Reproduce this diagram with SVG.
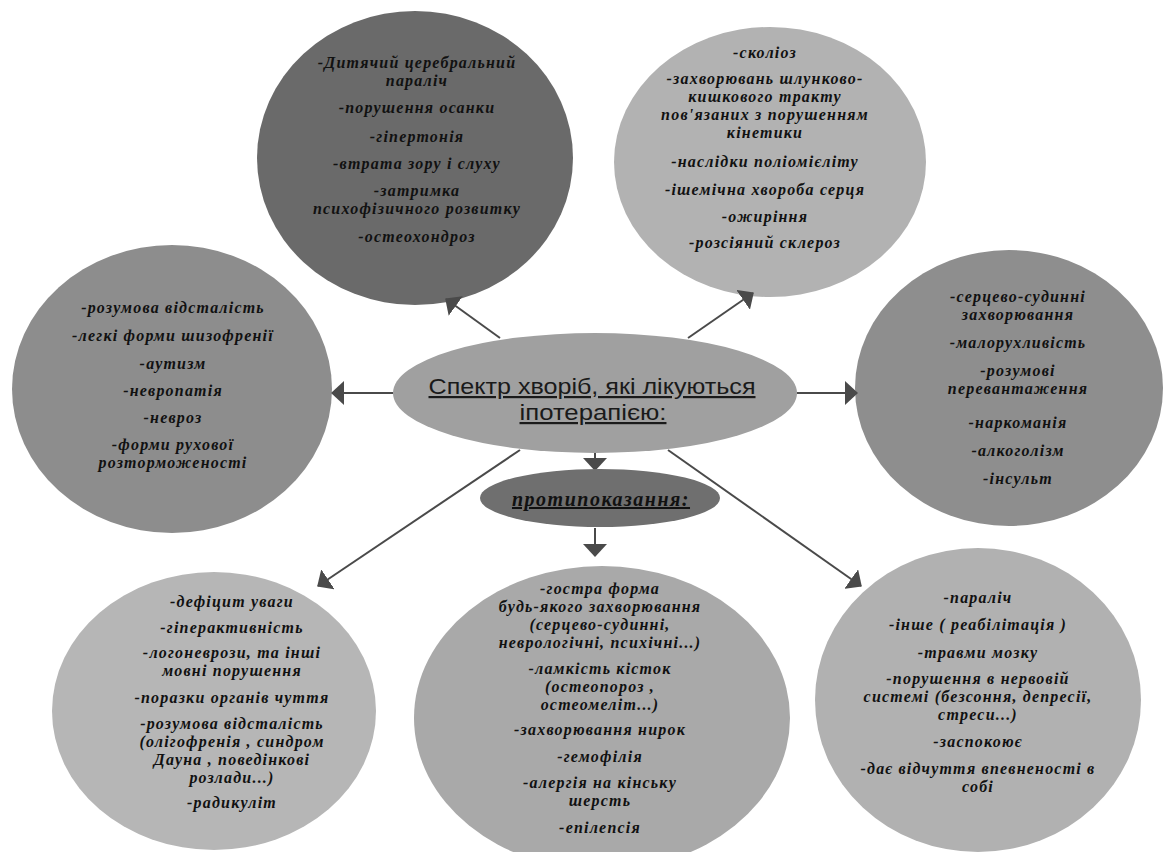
<svg xmlns="http://www.w3.org/2000/svg" width="1165" height="852" viewBox="0 0 1165 852">
<style>
.t{font-family:"Liberation Serif","DejaVu Serif",serif;font-style:italic;font-weight:bold;font-size:16px;letter-spacing:1.2px;fill:#111;text-anchor:middle}
.h{font-family:"Liberation Sans","DejaVu Sans",sans-serif;font-size:22px;fill:#1a1a1a;text-anchor:middle;text-decoration:underline}
.c{stroke:#4a4a4a;stroke-width:2;fill:none}
</style>
<defs>
<marker id="ah" viewBox="0 0 13 24" refX="12" refY="12" markerWidth="13" markerHeight="24" markerUnits="userSpaceOnUse" orient="auto">
<path d="M0,0 L13,12 L0,24 z" fill="#4a4a4a"/>
</marker>
</defs>
<rect width="1165" height="852" fill="#fff"/>

<g id="node-top-left">
<ellipse cx="415" cy="158" rx="158" ry="147" fill="#6a6a6a"/>
<text class="t" x="417" y="68">-Дитячий церебральний</text>
<text class="t" x="417" y="86">параліч</text>
<text class="t" x="417" y="113">-порушення осанки</text>
<text class="t" x="417" y="142">-гіпертонія</text>
<text class="t" x="417" y="169">-втрата зору і слуху</text>
<text class="t" x="417" y="196">-затримка</text>
<text class="t" x="417" y="214">психофізичного розвитку</text>
<text class="t" x="417" y="242">-остеохондроз</text>
</g>

<g id="node-top-right">
<ellipse cx="770" cy="162" rx="156" ry="135" fill="#b2b2b2"/>
<text class="t" x="765" y="58">-сколіоз</text>
<text class="t" x="765" y="84">-захворювань шлунково-</text>
<text class="t" x="765" y="102">кишкового тракту</text>
<text class="t" x="765" y="120">пов'язаних з порушенням</text>
<text class="t" x="765" y="138">кінетики</text>
<text class="t" x="765" y="167">-наслідки поліомієліту</text>
<text class="t" x="765" y="195">-ішемічна хвороба серця</text>
<text class="t" x="765" y="222">-ожиріння</text>
<text class="t" x="765" y="248">-розсіяний склероз</text>
</g>

<g id="node-left">
<ellipse cx="172" cy="389" rx="160" ry="144" fill="#8d8d8d"/>
<text class="t" x="173" y="313">-розумова відсталість</text>
<text class="t" x="173" y="341">-легкі форми шизофренії</text>
<text class="t" x="173" y="369">-аутизм</text>
<text class="t" x="173" y="396">-невропатія</text>
<text class="t" x="173" y="423">-невроз</text>
<text class="t" x="173" y="450">-форми рухової</text>
<text class="t" x="173" y="468">розторможеності</text>
</g>

<g id="node-right">
<ellipse cx="1009" cy="388" rx="154" ry="138" fill="#8e8e8e"/>
<text class="t" x="1018" y="302">-серцево-судинні</text>
<text class="t" x="1018" y="320">захворювання</text>
<text class="t" x="1018" y="348">-малорухливість</text>
<text class="t" x="1018" y="376">-розумові</text>
<text class="t" x="1018" y="394">перевантаження</text>
<text class="t" x="1018" y="428">-наркоманія</text>
<text class="t" x="1018" y="456">-алкоголізм</text>
<text class="t" x="1018" y="484">-інсульт</text>
</g>

<g id="node-bottom-left">
<ellipse cx="214" cy="711" rx="162" ry="139" fill="#b6b6b6"/>
<text class="t" x="232" y="607">-дефіцит уваги</text>
<text class="t" x="232" y="633">-гіперактивність</text>
<text class="t" x="232" y="658">-логоневрози, та інші</text>
<text class="t" x="232" y="676">мовні порушення</text>
<text class="t" x="232" y="703">-поразки органів чуття</text>
<text class="t" x="232" y="729">-розумова відсталість</text>
<text class="t" x="232" y="747">(олігофренія , синдром</text>
<text class="t" x="232" y="765">Дауна , поведінкові</text>
<text class="t" x="232" y="783">розлади...)</text>
<text class="t" x="232" y="808">-радикуліт</text>
</g>

<g id="node-bottom-center">
<ellipse cx="602" cy="718" rx="188" ry="152" fill="#a9a9a9"/>
<text class="t" x="600" y="594">-гостра форма</text>
<text class="t" x="600" y="612">будь-якого захворювання</text>
<text class="t" x="600" y="630">(серцево-судинні,</text>
<text class="t" x="600" y="648">неврологічні, психічні...)</text>
<text class="t" x="600" y="674">-ламкість кісток</text>
<text class="t" x="600" y="692">(остеопороз ,</text>
<text class="t" x="600" y="710">остеомеліт...)</text>
<text class="t" x="600" y="735">-захворювання нирок</text>
<text class="t" x="600" y="762">-гемофілія</text>
<text class="t" x="600" y="788">-алергія на кінську</text>
<text class="t" x="600" y="806">шерсть</text>
<text class="t" x="600" y="833">-епілепсія</text>
</g>

<g id="node-bottom-right">
<ellipse cx="978" cy="700" rx="163" ry="152" fill="#b1b1b1"/>
<text class="t" x="978" y="603">-параліч</text>
<text class="t" x="978" y="630">-інше ( реабілітація )</text>
<text class="t" x="978" y="658">-травми мозку</text>
<text class="t" x="978" y="684">-порушення в нервовій</text>
<text class="t" x="978" y="702">системі (безсоння, депресії,</text>
<text class="t" x="978" y="720">стреси...)</text>
<text class="t" x="978" y="747">-заспокоює</text>
<text class="t" x="978" y="774">-дає відчуття впевненості в</text>
<text class="t" x="978" y="792">собі</text>
</g>

<g id="connectors">
<line class="c" x1="500" y1="338" x2="446" y2="299" marker-end="url(#ah)"/>
<line class="c" x1="688" y1="338" x2="753" y2="293" marker-end="url(#ah)"/>
<line class="c" x1="393" y1="393" x2="332" y2="393" marker-end="url(#ah)"/>
<line class="c" x1="797" y1="393" x2="857" y2="393" marker-end="url(#ah)"/>
<line class="c" x1="595" y1="453" x2="595" y2="470" marker-end="url(#ah)"/>
<line class="c" x1="520" y1="450" x2="318" y2="586" marker-end="url(#ah)"/>
<line class="c" x1="668" y1="450" x2="861" y2="586" marker-end="url(#ah)"/>
<line class="c" x1="595" y1="528" x2="595" y2="556" marker-end="url(#ah)"/>
</g>

<g id="node-center">
<ellipse cx="595" cy="393" rx="202" ry="60" fill="#a0a0a0"/>
<text class="h" x="592" y="394" textLength="327" lengthAdjust="spacingAndGlyphs">Спектр хворіб, які лікуються</text>
<text class="h" x="593" y="420" textLength="147" lengthAdjust="spacingAndGlyphs">іпотерапією: </text>
</g>

<g id="node-contra">
<ellipse cx="600" cy="498" rx="120" ry="29" fill="#6f6f6f"/>
<text class="t" x="601" y="506" style="font-size:20px;letter-spacing:1.5px;text-decoration:underline">протипоказання:</text>
</g>
</svg>
